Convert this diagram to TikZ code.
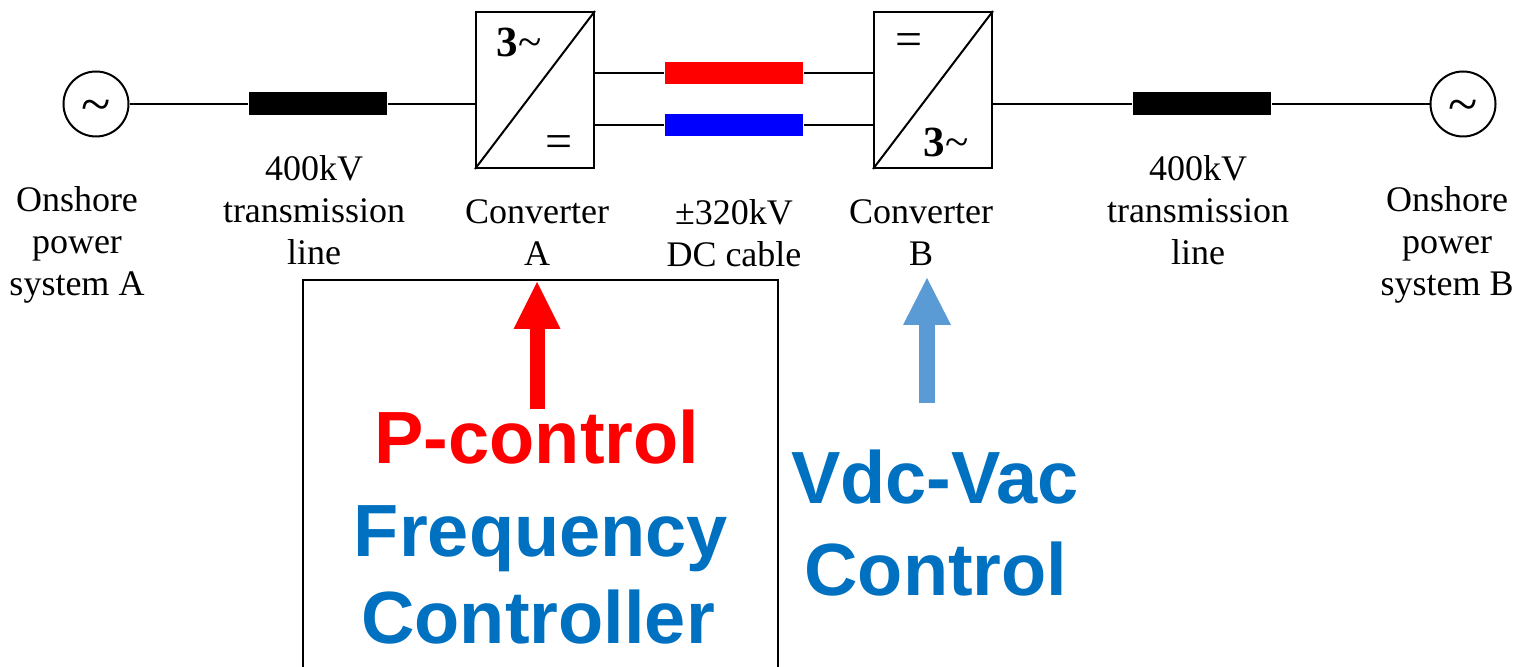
\documentclass[tikz,border=0pt]{standalone}
\usepackage{fontspec}
\setmainfont{Liberation Serif}
\setsansfont{Liberation Sans}
\usetikzlibrary{arrows.meta}
\definecolor{ctrlblue}{RGB}{0,112,192}
\definecolor{arrowblue}{RGB}{91,155,213}
\begin{document}
\begin{tikzpicture}[x=0.5pt,y=-0.5pt,line width=1pt,
		lbl/.style={align=center,anchor=north,inner sep=0pt,font=\fontsize{18}{21}\selectfont},
		src/.style={draw,circle,minimum size=32.5pt,inner sep=0pt},
		wave/.style={inner sep=0pt,font=\fontsize{27}{27}\selectfont},
		tline/.style={fill=black,minimum width=69pt,minimum height=11.5pt,inner sep=0pt},
		cable/.style={minimum width=69pt,minimum height=11pt,inner sep=0pt},
		conv/.style={draw,minimum width=59pt,minimum height=78pt,inner sep=0pt},
		sym/.style={inner sep=0pt,font=\fontsize{21.5}{21.5}\selectfont},
		eq/.style={inner sep=0pt,font=\fontsize{24}{24}\selectfont},
		big/.style={inner sep=0pt,anchor=base,font=\fontsize{37}{44}\selectfont\sffamily\bfseries}]
	\useasboundingbox (0,0) rectangle (1516,667);
	% AC side A
	\node[src] (srcA) at (96,104) {};
	\node[wave] (waveA) at (96,111) {\textasciitilde};
	\node[tline] (lineA) at (318,104) {};
	\node[conv] (convA) at (535,90) {};
	\draw (convA.south west)--(convA.north east);
	\node[sym] (acA) at (519,42) {\textbf{3}\textasciitilde};
	\node[eq] (dcA) at (559,147) {=};
	% DC link
	\node[cable,fill=red] (cabP) at (734,73) {};
	\node[cable,fill=blue] (cabN) at (734,125) {};
	% AC side B
	\node[conv] (convB) at (933,90) {};
	\draw (convB.south west)--(convB.north east);
	\node[eq] (dcB) at (909,45) {=};
	\node[sym] (acB) at (946,142) {\textbf{3}\textasciitilde};
	\node[tline] (lineB) at (1202,104) {};
	\node[src] (srcB) at (1463,104) {};
	\node[wave] (waveB) at (1463,111) {\textasciitilde};
	% wiring
	\draw (srcA)--(lineA)--(convA.west |- lineA);
	\draw (convA.east |- cabP)--(cabP)--(convB.west |- cabP);
	\draw (convA.east |- cabN)--(cabN)--(convB.west |- cabN);
	\draw (convB.east |- lineB)--(lineB)--(srcB);
	% labels
	\node[lbl] (lblSrcA) at (77,186) {Onshore\\power\\system A};
	\node[lbl] (lblLineA) at (314,155) {400kV\\transmission\\line};
	\node[lbl] (lblConvA) at (537,199) {Converter\\A};
	\node[lbl] (lblCable) at (734,199) {±320kV\\DC cable};
	\node[lbl] (lblConvB) at (921,199) {Converter\\B};
	\node[lbl] (lblLineB) at (1198,155) {400kV\\transmission\\line};
	\node[lbl] (lblSrcB) at (1447,186) {Onshore\\power\\system B};
	% controllers
	\draw[line width=0.75pt] (303,680) |- (778,280) -- (778,680);
	\node[big,red] (pctl) at (537,464) {P-control};
	\node[big,ctrlblue] (freq) at (541,557) {Frequency};
	\node[big,ctrlblue] (fctl) at (538,644) {Controller};
	\node[big,ctrlblue] (vdc) at (935,504) {Vdc-Vac};
	\node[big,ctrlblue] (vctl) at (936,596) {Control};
	\coordinate (tipA) at (537,282);
	\coordinate (tipB) at (927,278);
	\draw[red,line width=7.5pt,-{Triangle[width=23.5pt,length=23.5pt,line width=0pt]}] (pctl.north -| tipA)--(tipA);
	\draw[arrowblue,line width=8pt,shorten <=23pt,-{Triangle[width=24pt,length=23.5pt,line width=0pt]}] (vdc.north -| tipB)--(tipB);
\end{tikzpicture}
\end{document}
